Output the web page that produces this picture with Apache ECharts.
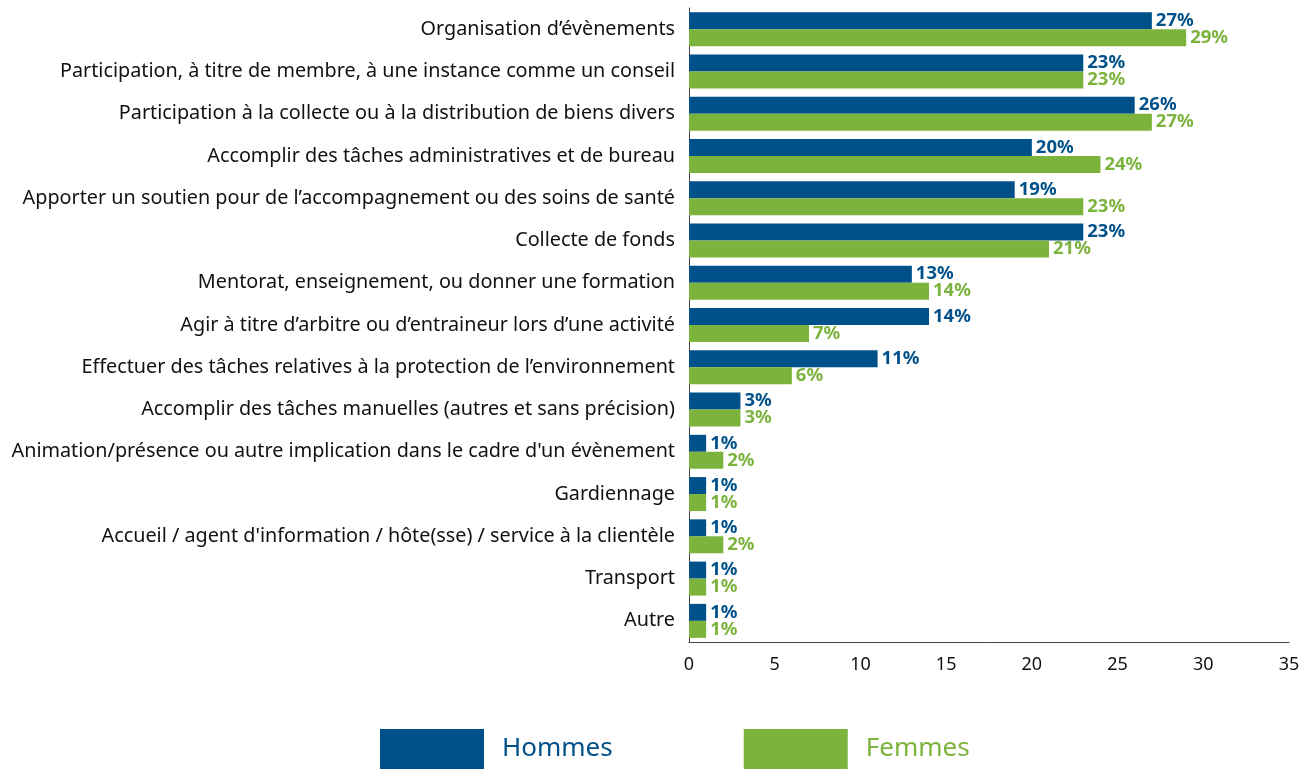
<!DOCTYPE html>
<html>
<head>
<meta charset="utf-8">
<script src="https://cdn.jsdelivr.net/npm/echarts@6/dist/echarts.min.js"></script>
<style>
  html, body { margin: 0; padding: 0; background: #fff; }
  #main { width: 1312px; height: 770px; }
</style>
</head>
<body>
<div id="main"></div>
<script>
var categories = [
  'Organisation d\u2019évènements',
  'Participation, à titre de membre, à une instance comme un conseil',
  'Participation à la collecte ou à la distribution de biens divers',
  'Accomplir des tâches administratives et de bureau',
  'Apporter un soutien pour de l\u2019accompagnement ou des soins de santé',
  'Collecte de fonds',
  'Mentorat, enseignement, ou donner une formation',
  'Agir à titre d\u2019arbitre ou d\u2019entraineur lors d\u2019une activité',
  'Effectuer des tâches relatives à la protection de l\u2019environnement',
  'Accomplir des tâches manuelles (autres et sans précision)',
  'Animation/présence ou autre implication dans le cadre d\'un évènement',
  'Gardiennage',
  'Accueil / agent d\'information / hôte(sse) / service à la clientèle',
  'Transport',
  'Autre'
];
var hommes = [27, 23, 26, 20, 19, 23, 13, 14, 11, 3, 1, 1, 1, 1, 1];
var femmes = [29, 23, 27, 24, 23, 21, 14, 7, 6, 3, 2, 1, 2, 1, 1];

var blue = '#00518a';
var green = '#7cb33d';

var myChart = echarts.init(document.getElementById('main'));

var option = {
  animation: false,
  textStyle: { fontFamily: 'Noto Sans' },
  grid: { left: 689, right: 23, top: 8, bottom: 128, containLabel: false },
  xAxis: {
    type: 'value',
    min: 0,
    max: 35,
    interval: 5,
    splitLine: { show: false },
    axisLine: { show: true, lineStyle: { color: '#444', width: 1 } },
    axisTick: { show: false },
    axisLabel: { color: '#111', fontSize: 18, margin: 14 }
  },
  yAxis: {
    type: 'category',
    inverse: true,
    data: categories,
    axisLine: { show: true, lineStyle: { color: '#444', width: 1 } },
    axisTick: { show: false },
    axisLabel: { color: '#111', fontSize: 19.8, margin: 14 }
  },
  legend: {
    left: 375,
    bottom: -4,
    itemWidth: 104,
    itemHeight: 40,
    itemGap: 131,
    icon: 'rect',
    data: [
      { name: 'Hommes', textStyle: { color: blue } },
      { name: 'Femmes', textStyle: { color: green } }
    ],
    textStyle: { fontSize: 26, padding: [0, 0, 0, 13] }
  },
  series: [
    {
      name: 'Hommes',
      type: 'bar',
      data: hommes,
      barWidth: 17,
      barGap: '0%',
      itemStyle: { color: blue },
      label: {
        show: true, position: 'right', distance: 4,
        formatter: '{c}%', color: blue, fontWeight: 'bold', fontSize: 18.5
      }
    },
    {
      name: 'Femmes',
      type: 'bar',
      data: femmes,
      barWidth: 17,
      barGap: '0%',
      itemStyle: { color: green },
      label: {
        show: true, position: 'right', distance: 4,
        formatter: '{c}%', color: green, fontWeight: 'bold', fontSize: 18.5
      }
    }
  ]
};

myChart.setOption(option);
</script>
</body>
</html>
